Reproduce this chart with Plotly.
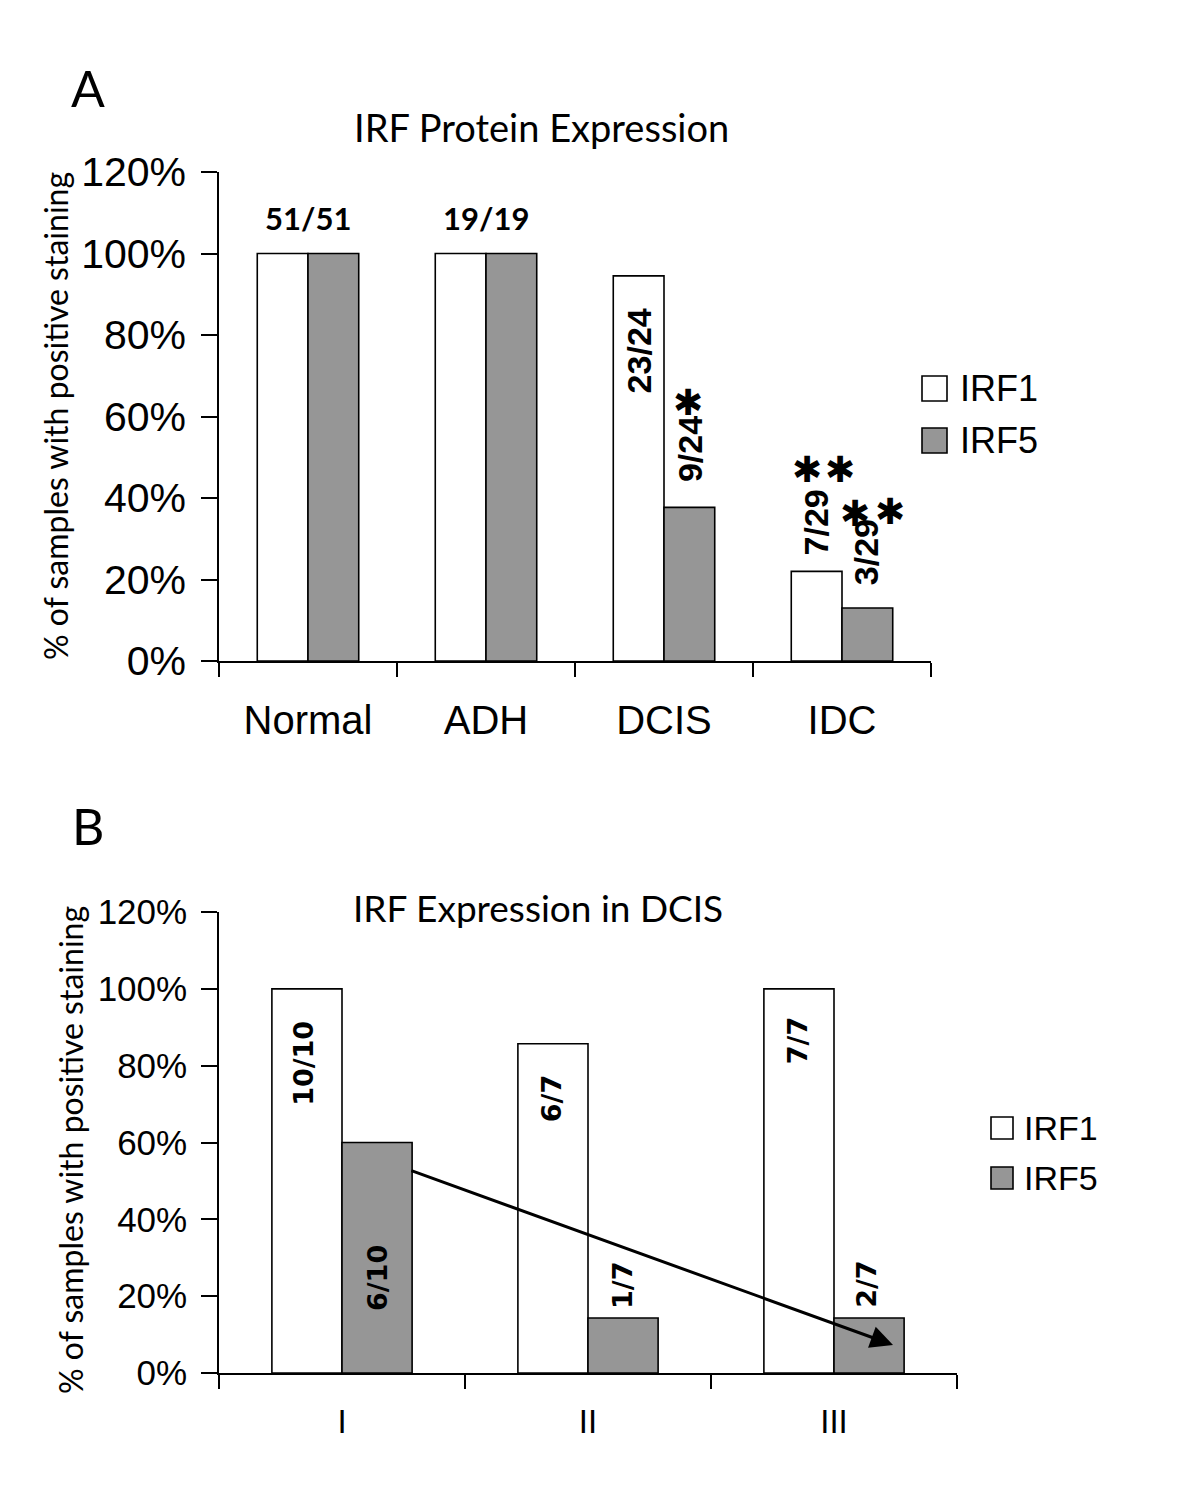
import plotly.graph_objects as go

# ---------------- data ----------------
cats_a = ["Normal", "ADH", "DCIS", "IDC"]
irf1_a = [100, 100, 94.5, 22]
irf5_a = [100, 100, 37.7, 13]

cats_b = ["I", "II", "III"]
irf1_b = [100, 85.7, 100]
irf5_b = [60, 14.3, 14.3]

series_names = ["IRF1", "IRF5"]
series_colors = ["#ffffff", "#969696"]

title_a = "IRF Protein Expression"
title_b = "IRF Expression in DCIS"
ytitle = "% of samples with positive staining"

# labels: (text, x category index, y %, rotated)
labels_a = [("51/51", 0, 108.7, False), ("19/19", 1, 108.7, False),
            ("23/24", 1.86, 76.0, True), ("9/24", 2.146, 52.0, True),
            ("7/29", 2.854, 34.0, True), ("3/29", 3.135, 26.7, True)]
stars_a = [(2.135, 63.5), (2.803, 46.9), (2.989, 46.9), (3.073, 36.3), (3.27, 36.6)]
labels_b = [("10/10", -0.155, 80.7), ("6/10", 0.142, 24.7), ("6/7", 0.85, 71.3),
            ("1/7", 1.138, 22.9), ("7/7", 1.85, 86.4), ("2/7", 2.134, 23.2)]
arrow_b = (0.276, 52.8, 2.24, 7.3)

OFF = 8  # page body margin
W, H = 1200 - OFF, 1493 - OFF


def px(x):
    return (x - OFF) / W


def py(y):
    return 1 - (y - OFF) / H


fig = go.Figure()
for name, col, vals in zip(series_names, series_colors, [irf1_a, irf5_a]):
    fig.add_trace(go.Bar(x=cats_a, y=vals, name=name, marker=dict(color=col, line=dict(color="black", width=1.6)),
                         xaxis="x", yaxis="y", showlegend=False))
for name, col, vals in zip(series_names, series_colors, [irf1_b, irf5_b]):
    fig.add_trace(go.Bar(x=cats_b, y=vals, name=name, marker=dict(color=col, line=dict(color="black", width=1.6)),
                         xaxis="x2", yaxis="y2", showlegend=False))

ARIAL = "Liberation Sans, Arial, sans-serif"
CAL = "Lato, Carlito, sans-serif"

common_y = dict(range=[0, 120], dtick=20, ticksuffix="%", showgrid=False, zeroline=False,
                showline=True, linecolor="black", linewidth=1.6, ticks="outside",
                tickcolor="black", tickwidth=1.6, ticklen=16, automargin=False)
common_x = dict(type="category", tickson="boundaries", showgrid=False, zeroline=False,
                showline=True, linecolor="black", linewidth=1.6, ticks="outside",
                tickcolor="black", tickwidth=1.6, ticklen=14, automargin=False)

fig.update_layout(
    width=W, height=H, margin=dict(l=0, r=0, t=0, b=0, autoexpand=False),
    paper_bgcolor="white", plot_bgcolor="white",
    barmode="group", bargap=0.43, bargroupgap=0,
    xaxis=dict(domain=[px(219), px(931)], anchor="y", tickfont=dict(family=ARIAL, size=40, color="black"),
               ticklabelstandoff=23, **common_x),
    yaxis=dict(domain=[py(661), py(172)], anchor="x", tickfont=dict(family=ARIAL, size=41, color="black"),
               ticklabelstandoff=7, **common_y),
    xaxis2=dict(domain=[px(219), px(957)], anchor="y2", tickfont=dict(family=ARIAL, size=33, color="black"),
                ticklabelstandoff=19, **common_x),
    yaxis2=dict(domain=[py(1373), py(912)], anchor="x2", tickfont=dict(family=ARIAL, size=35, color="black"),
                ticklabelstandoff=7, **common_y),
)

ann = []


def pann(text, x, y, size, family=CAL, angle=0, xanchor="center", weight="normal"):
    ann.append(dict(text=text, x=px(x), y=py(y), xref="paper", yref="paper", showarrow=False,
                    textangle=angle, xanchor=xanchor, yanchor="middle",
                    font=dict(family=family, size=size, color="black", weight=weight)))


# panel letters
pann("A", 88, 88, 50)
pann("B", 88, 826, 50)
# titles
pann(title_a, 541, 127, 38)
pann(title_b, 538, 907, 37)
# y titles
pann(ytitle, 55, 416, 32, angle=-90)
pann(ytitle, 70, 1150, 32, angle=-90)

for t, xi, yv, rot in labels_a:
    if rot:
        ann.append(dict(text=t, x=xi, y=yv, xref="x", yref="y", showarrow=False, textangle=-90,
                        xanchor="center", yanchor="middle",
                        font=dict(family=ARIAL, size=34, color="black", weight="bold")))
    else:
        ann.append(dict(text=t, x=xi, y=yv, xref="x", yref="y", showarrow=False,
                        xanchor="center", yanchor="middle",
                        font=dict(family=CAL, size=31, color="black", weight="bold")))
for xi, yv in stars_a:
    ann.append(dict(text="\u2731", x=xi, y=yv, xref="x", yref="y", showarrow=False,
                    xanchor="center", yanchor="middle",
                    font=dict(family="DejaVu Sans, sans-serif", size=36, color="black")))
for t, xi, yv in labels_b:
    ann.append(dict(text=t, x=xi, y=yv, xref="x2", yref="y2", showarrow=False, textangle=-90,
                    xanchor="center", yanchor="middle",
                    font=dict(family="DejaVu Sans, sans-serif", size=27, color="black", weight="bold")))

x0, y0, x1, y1 = arrow_b
ann.append(dict(x=x1, y=y1, ax=x0, ay=y0, xref="x2", yref="y2", axref="x2", ayref="y2", text="",
                showarrow=True, arrowhead=2, arrowsize=1.5, arrowwidth=3, arrowcolor="black"))

# manual legends
shapes = []
leg = [  # (box x0, box size, first box y0, spacing, text x, font size)
    (922, 25, 376, 52, 958, 36),
    (991, 22, 1117, 50, 1022, 34),
]
for bx, bs, by, sp, tx, fs in leg:
    for i, (name, col) in enumerate(zip(series_names, series_colors)):
        yt = by + i * sp
        shapes.append(dict(type="rect", xref="paper", yref="paper", x0=px(bx), x1=px(bx + bs),
                           y0=py(yt + bs), y1=py(yt), fillcolor=col, line=dict(color="black", width=1.6)))
        pann(name, tx, yt + bs / 2, fs, family=ARIAL, xanchor="left")

fig.update_layout(annotations=ann, shapes=shapes)
fig.write_html("out.html")
